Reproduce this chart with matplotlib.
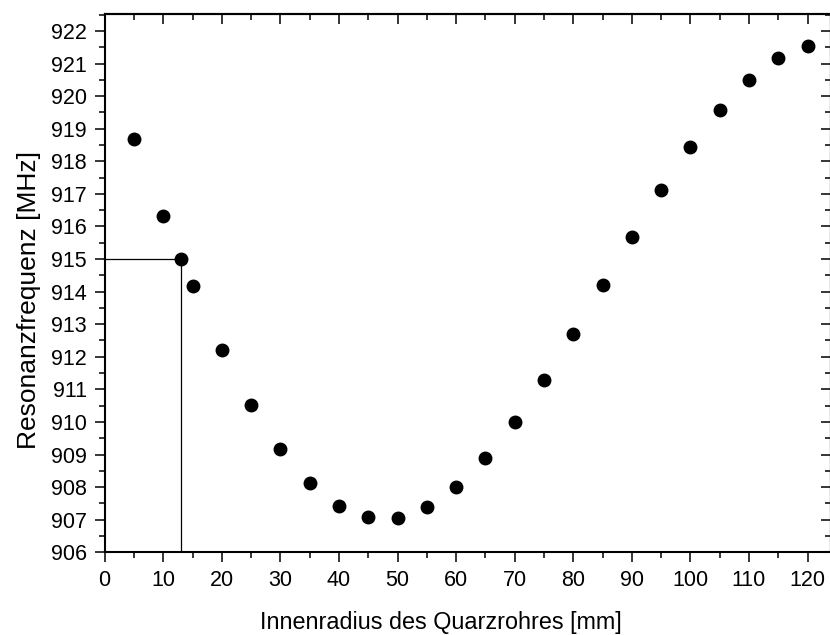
import matplotlib.pyplot as plt
from matplotlib.ticker import MultipleLocator

# Innenradius [mm] und gemessene Resonanzfrequenz [MHz]
radius = [5, 10, 13, 15, 20, 25, 30, 35, 40, 45, 50, 55, 60,
          65, 70, 75, 80, 85, 90, 95, 100, 105, 110, 115, 120]
freq = [918.68, 916.33, 915.0, 914.17, 912.21, 910.53, 909.17, 908.13,
        907.43, 907.07, 907.06, 907.38, 908.0, 908.88, 910.0, 911.3,
        912.7, 914.2, 915.68, 917.12, 918.44, 919.58, 920.5, 921.16, 921.53]

# Arbeitspunkt bei 915 MHz
r_mark = 13
f_mark = 915.0

plt.rcParams['font.family'] = ['Liberation Sans', 'DejaVu Sans']

fig = plt.figure(figsize=(8.3, 6.35), dpi=100)
ax = fig.add_axes([0.1261, 0.1303, 0.8751, 0.8476])

ax.plot(radius, freq, 'o', color='black', markersize=9, zorder=3)
ax.plot([0, r_mark], [f_mark, f_mark], color='black', linewidth=0.9)
ax.plot([r_mark, r_mark], [906, f_mark], color='black', linewidth=0.9)

ax.set_xlim(0, 124)
ax.set_ylim(906, 922.52)
ax.xaxis.set_major_locator(MultipleLocator(10))
ax.xaxis.set_minor_locator(MultipleLocator(5))
ax.yaxis.set_major_locator(MultipleLocator(1))
ax.yaxis.set_minor_locator(MultipleLocator(0.5))
ax.set_xticks(range(0, 121, 10))

for side in ax.spines.values():
    side.set_linewidth(1.5)

ax.tick_params(which='major', direction='out', length=7, width=1.1,
               labelsize=15.5, pad=6)
ax.tick_params(which='minor', direction='out', length=4, width=1.1)

# Gegenseiten: Striche nach innen, ohne Beschriftung
top = ax.secondary_xaxis('top')
top.xaxis.set_major_locator(MultipleLocator(10))
top.xaxis.set_minor_locator(MultipleLocator(5))
top.tick_params(which='major', direction='in', length=7, width=1.1,
                labeltop=False)
top.tick_params(which='minor', direction='in', length=4, width=1.1)
right = ax.secondary_yaxis('right')
right.yaxis.set_major_locator(MultipleLocator(1))
right.yaxis.set_minor_locator(MultipleLocator(0.5))
right.tick_params(which='major', direction='in', length=7, width=1.1,
                  labelright=False)
right.tick_params(which='minor', direction='in', length=4, width=1.1)
for s in (top, right):
    for sp in s.spines.values():
        sp.set_linewidth(1.5)

ax.set_xlabel('Innenradius des Quarzrohres [mm]', fontsize=16.8)
ax.set_ylabel('Resonanzfrequenz [MHz]', fontsize=19)
ax.xaxis.set_label_coords(0.463, -0.11)
ax.yaxis.set_label_coords(-0.087, 0.469)

fig.savefig('out.png', dpi=100)
